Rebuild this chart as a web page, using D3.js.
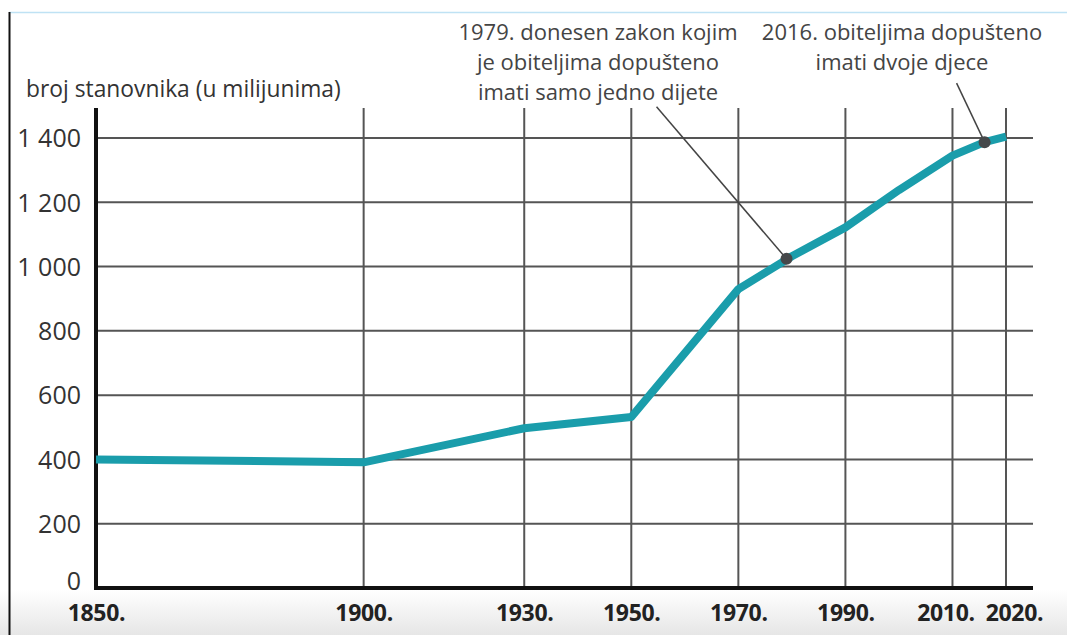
<!DOCTYPE html>
<html>
<head>
<meta charset="utf-8">
<script src="https://cdn.jsdelivr.net/npm/d3@7"></script>
<style>
  body { margin: 0; background: #fff; }
  svg { display: block; }
  svg text { font-family: "Open Sans", "Noto Sans", sans-serif; }
</style>
</head>
<body>
<script>
const years = [1850, 1875, 1900, 1930, 1950, 1970, 1980, 1990, 2000, 2010, 2016, 2020];
const population = [400, 396, 391, 497, 532, 930, 1032, 1122, 1238, 1345, 1387, 1404];
const xTicks = [1850, 1900, 1930, 1950, 1970, 1990, 2010, 2020];
const yTicks = [0, 200, 400, 600, 800, 1000, 1200, 1400];
const events = [
  { year: 1979, value: 1024, lines: ["1979. donesen zakon kojim", "je obiteljima dopušteno", "imati samo jedno dijete"] },
  { year: 2016, value: 1387, lines: ["2016. obiteljima dopušteno", "imati dvoje djece"] }
];

const width = 1067, height = 635;
const margin = { top: 108, right: 34, bottom: 47, left: 96 };

const svg = d3.select("body").append("svg")
  .attr("width", width)
  .attr("height", height);

// screenshot-ish frame
const grad = svg.append("defs").append("linearGradient")
  .attr("id", "bottomFade").attr("x1", 0).attr("x2", 0).attr("y1", 0).attr("y2", 1);
grad.append("stop").attr("offset", "0%").attr("stop-color", "#ffffff");
grad.append("stop").attr("offset", "100%").attr("stop-color", "#e6e6e6");
svg.append("rect").attr("x", 0).attr("y", 590).attr("width", width).attr("height", 45)
  .attr("fill", "url(#bottomFade)");
svg.append("line").attr("x1", 9).attr("x2", width).attr("y1", 12.5).attr("y2", 12.5)
  .attr("stroke", "#bfe2f4").attr("stroke-width", 1.5);
svg.append("line").attr("x1", 9.5).attr("x2", 9.5).attr("y1", 12).attr("y2", height)
  .attr("stroke", "#111").attr("stroke-width", 2);

const x = d3.scaleLinear()
  .domain([1850, 2020])
  .range([margin.left, width - margin.right - 27]);

const y = d3.scaleLinear()
  .domain([0, 1400])
  .range([height - margin.bottom, 138]);

const plotRight = width - margin.right;
const fmt = d3.formatLocale({ decimal: ",", thousands: " ", grouping: [3], currency: ["", ""] }).format(",d");

// horizontal gridlines
svg.append("g")
  .selectAll("line")
  .data(yTicks.filter(d => d > 0))
  .join("line")
  .attr("x1", margin.left)
  .attr("x2", plotRight)
  .attr("y1", d => y(d))
  .attr("y2", d => y(d))
  .attr("stroke", "#555")
  .attr("stroke-width", 2);

// vertical gridlines
svg.append("g")
  .selectAll("line")
  .data(xTicks.filter(d => d > 1850))
  .join("line")
  .attr("x1", d => x(d))
  .attr("x2", d => x(d))
  .attr("y1", margin.top)
  .attr("y2", y(0))
  .attr("stroke", "#555")
  .attr("stroke-width", 2);

// axes
const yAxis = d3.axisLeft(y)
  .tickValues(yTicks)
  .tickSize(0)
  .tickPadding(15)
  .tickFormat(fmt);

const xAxis = d3.axisBottom(x)
  .tickValues(xTicks)
  .tickSize(0)
  .tickPadding(17)
  .tickFormat(d => d + ".");

const gy = svg.append("g")
  .attr("transform", "translate(" + margin.left + ",0)")
  .call(yAxis)
  .attr("font-family", null);
gy.select(".domain").remove();
gy.selectAll("text")
  .attr("fill", "#333")
  .style("font-size", "25px")
  .attr("dy", (d) => d === 0 ? "0.05em" : "0.35em");

const gx = svg.append("g")
  .attr("transform", "translate(0," + y(0) + ")")
  .call(xAxis)
  .attr("font-family", null);
gx.select(".domain").remove();
gx.selectAll("text")
  .attr("fill", "#222")
  .style("font-size", "23px")
  .style("font-weight", "bold")
  .style("letter-spacing", "-0.3px")
  .attr("dx", d => d === 2010 ? -7 : d === 2020 ? 8 : 0);

svg.append("line")
  .attr("x1", margin.left).attr("x2", margin.left)
  .attr("y1", margin.top).attr("y2", y(0) + 2)
  .attr("stroke", "#111").attr("stroke-width", 4);
svg.append("line")
  .attr("x1", margin.left - 2).attr("x2", plotRight)
  .attr("y1", y(0)).attr("y2", y(0))
  .attr("stroke", "#111").attr("stroke-width", 4);

svg.append("text")
  .attr("x", 26)
  .attr("y", 97)
  .attr("fill", "#333")
  .style("font-size", "22.8px")
  .text("broj stanovnika (u milijunima)");

// population line
const line = d3.line()
  .x((d, i) => x(years[i]))
  .y(d => y(d));

svg.append("path")
  .datum(population)
  .attr("d", line)
  .attr("fill", "none")
  .attr("stroke", "#1a9dab")
  .attr("stroke-width", 8)
  .attr("stroke-linejoin", "round");

// annotations
const leaders = [
  { dx: -130, dy: -152, cx: 598 },
  { dx: -28, dy: -59, cx: 902 }
];

events.forEach((e, i) => {
  const px = x(e.year), py = y(e.value);
  svg.append("line")
    .attr("x1", px).attr("y1", py)
    .attr("x2", px + leaders[i].dx).attr("y2", py + leaders[i].dy)
    .attr("stroke", "#444").attr("stroke-width", 1.5);
  svg.append("circle")
    .attr("cx", px).attr("cy", py)
    .attr("r", 6)
    .attr("fill", "#45484a");
  svg.append("text")
    .attr("text-anchor", "middle")
    .attr("fill", "#444")
    .style("font-size", "22px")
    .selectAll("tspan")
    .data(e.lines)
    .join("tspan")
    .attr("x", leaders[i].cx)
    .attr("y", (d, j) => 40 + j * 30)
    .text(d => d);
});
</script>
</body>
</html>
